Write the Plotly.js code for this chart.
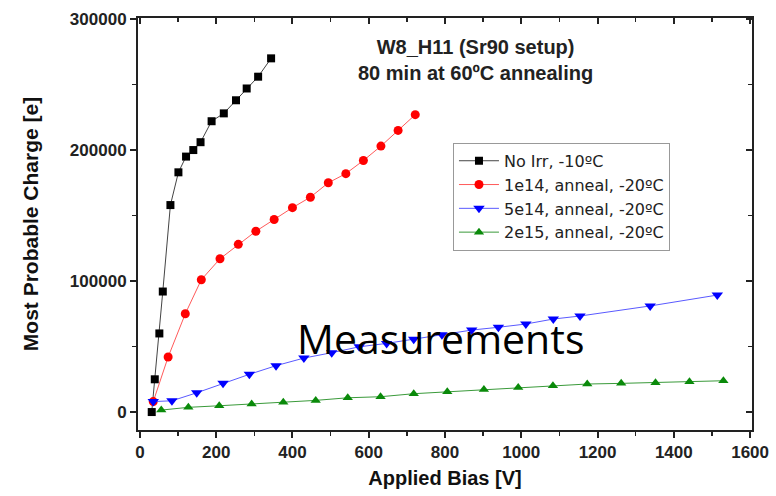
<!DOCTYPE html>
<html>
<head>
<meta charset="utf-8">
<script src="https://cdn.plot.ly/plotly-3.0.1.min.js"></script>
<style>html,body{margin:0;padding:0;background:#fff;}#chart{width:776px;height:496px;}</style>
</head>
<body>
<div id="chart"></div>
<script>
// Data
const seriesNames = ["No Irr, -10ºC", "1e14, anneal, -20ºC", "5e14, anneal, -20ºC", "2e15, anneal, -20ºC"];

const noIrrBias = [31, 39, 51, 60, 80, 101, 121, 140, 159, 188, 220, 252, 280, 310, 344];
const noIrrCharge = [0, 25000, 60000, 92000, 158000, 183000, 195000, 200000, 206000, 222000, 228000, 238000, 247000, 256000, 270000];

const e14Bias = [35, 74, 119, 161, 210, 258, 304, 352, 400, 447, 494, 540, 586, 632, 677, 722];
const e14Charge = [8000, 42000, 75000, 101000, 117000, 128000, 138000, 147000, 156000, 164000, 175000, 182000, 192000, 203000, 215000, 227000];

const e5Bias = [35, 84, 149, 218, 287, 357, 430, 503, 575, 647, 718, 792, 870, 940, 1012, 1084, 1154, 1338, 1514];
const e5Charge = [8000, 8600, 14700, 21900, 28800, 35400, 41200, 45300, 49800, 52400, 55500, 59000, 62600, 64700, 67200, 71000, 73300, 81000, 89300];

const e15Bias = [56, 127, 208, 293, 376, 461, 545, 631, 718, 806, 902, 992, 1083, 1173, 1262, 1352, 1441, 1530];
const e15Charge = [1500, 3600, 4800, 6100, 7400, 8900, 10900, 11700, 14000, 15500, 17300, 18800, 20100, 21400, 21900, 22400, 23100, 23900];

const xTickVals = [0, 200, 400, 600, 800, 1000, 1200, 1400, 1600];
const yTickVals = [0, 100000, 200000, 300000];

const traces = [
  {x: noIrrBias, y: noIrrCharge, name: seriesNames[0], mode: 'lines+markers',
   line: {color: '#444', width: 1}, marker: {symbol: 'square', size: 8, color: '#000'}},
  {x: e14Bias, y: e14Charge, name: seriesNames[1], mode: 'lines+markers',
   line: {color: '#ff5a5a', width: 1}, marker: {symbol: 'circle', size: 9, color: '#ff0000'}},
  {x: e5Bias, y: e5Charge, name: seriesNames[2], mode: 'lines+markers',
   line: {color: '#5a5aff', width: 1}, marker: {symbol: 'triangle-down', size: 10, color: '#0000ff'}},
  {x: e15Bias, y: e15Charge, name: seriesNames[3], mode: 'lines+markers',
   line: {color: '#3a9a3a', width: 1}, marker: {symbol: 'triangle-up', size: 9, color: '#0a8a0a'}}
];

const FAM = 'Liberation Sans, Arial, sans-serif';
const tickFont = {family: FAM, size: 17, color: '#222', weight: 'bold'};

const layout = {
  width: 776, height: 496,
  margin: {l: 138, r: 24, t: 18, b: 66},
  paper_bgcolor: '#fff', plot_bgcolor: '#fff',
  showlegend: true,
  legend: {x: 0.513, y: 0.697, xanchor: 'left', yanchor: 'top',
    bordercolor: '#999', borderwidth: 1, bgcolor: '#fff',
    font: {family: 'DejaVu Sans, sans-serif', size: 16, color: '#222'},
    tracegroupgap: 0, itemwidth: 40},
  xaxis: {
    range: [-5, 1605], tickvals: xTickVals, ticktext: xTickVals.map(String),
    showgrid: false, zeroline: false, showline: true, linecolor: '#222', linewidth: 2,
    ticks: 'outside', ticklen: 6, tickwidth: 2, tickcolor: '#222',
    minor: {dtick: 100, tick0: 0, ticks: 'outside', ticklen: 4, tickwidth: 1.5, tickcolor: '#222'},
    tickfont: tickFont,
    title: {text: 'Applied Bias [V]', font: {family: FAM, size: 20, color: '#111', weight: 'bold'}, standoff: 10}
  },
  yaxis: {
    range: [-13700, 300800], tickvals: yTickVals, ticktext: yTickVals.map(String),
    showgrid: false, zeroline: false, showline: true, linecolor: '#222', linewidth: 2,
    ticks: 'outside', ticklen: 6, tickwidth: 2, tickcolor: '#222',
    minor: {dtick: 50000, tick0: 0, ticks: 'outside', ticklen: 4, tickwidth: 1.5, tickcolor: '#222'},
    tickfont: tickFont,
    title: {text: 'Most Probable Charge [e]', font: {family: FAM, size: 21, color: '#111', weight: 'bold'}, standoff: 26}
  },
  xaxis2: {
    overlaying: 'x', side: 'top', anchor: 'y', matches: 'x', range: [-5, 1605],
    tickvals: xTickVals, showticklabels: false, showgrid: false, zeroline: false,
    showline: true, linecolor: '#222', linewidth: 2,
    ticks: 'inside', ticklen: 6, tickwidth: 2, tickcolor: '#222',
    minor: {dtick: 100, tick0: 0, ticks: 'inside', ticklen: 4, tickwidth: 1.5, tickcolor: '#222'}
  },
  yaxis2: {
    overlaying: 'y', side: 'right', anchor: 'x', matches: 'y', range: [-13700, 300800],
    tickvals: yTickVals, showticklabels: false, showgrid: false, zeroline: false,
    showline: true, linecolor: '#222', linewidth: 2,
    ticks: 'inside', ticklen: 6, tickwidth: 2, tickcolor: '#222',
    minor: {dtick: 50000, tick0: 0, ticks: 'inside', ticklen: 4, tickwidth: 1.5, tickcolor: '#222'}
  },
  annotations: [
    {xref: 'paper', yref: 'paper', x: 0.55, y: 0.897, xanchor: 'center', yanchor: 'middle',
     text: 'W8_H11 (Sr90 setup)<br>80 min at 60ºC annealing', showarrow: false, align: 'center',
     font: {family: FAM, size: 20, color: '#222', weight: 'bold'}},
    {xref: 'paper', yref: 'paper', x: 0.493, y: 0.223, xanchor: 'center', yanchor: 'middle',
     text: 'Measurements', showarrow: false,
     font: {family: 'Open Sans, sans-serif', size: 41, color: '#000'}}
  ]
};

// empty trace to register the mirror axes
traces.push({x: [null], y: [null], xaxis: 'x2', yaxis: 'y2', showlegend: false, hoverinfo: 'skip', mode: 'markers'});

Plotly.newPlot('chart', traces, layout, {staticPlot: true, displayModeBar: false});
</script>
</body>
</html>
